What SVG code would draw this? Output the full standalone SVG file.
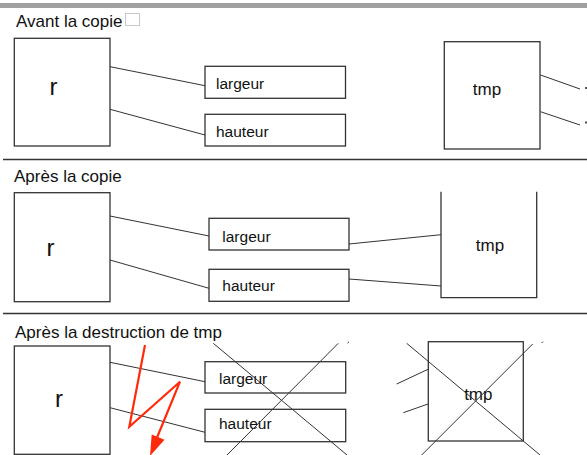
<svg xmlns="http://www.w3.org/2000/svg" width="587" height="455" viewBox="0 0 587 455">
<style>
text{font-family:"Liberation Sans",Arial,sans-serif;fill:#111}
.title{font-size:17px}
.lbl{font-size:15.5px}
.big{font-size:24px;text-anchor:middle}
.tmp{font-size:17px;text-anchor:middle}
.box{fill:#fff;stroke:#333;stroke-width:1.3}
.ln{stroke:#333;stroke-width:1;fill:none}
.sep{stroke:#333;stroke-width:1.3}
.red{stroke:#ff2a0a;stroke-width:2.2;fill:none;stroke-linejoin:miter}
</style>
<rect x="0" y="0" width="587" height="455" fill="#fff"/>
<rect x="0" y="3" width="587" height="5" fill="#a0a0a0"/>
<line class="sep" x1="3" y1="159.5" x2="587" y2="159.5"/>
<line class="sep" x1="3" y1="313.5" x2="587" y2="313.5"/>

<!-- Section 1 -->
<text class="title" x="16" y="26.7">Avant la copie</text>
<rect x="125.5" y="13.5" width="14" height="12" fill="none" stroke="#c8c8c8" stroke-width="1"/>
<g id="connectors">
<line class="ln" x1="110" y1="66.7" x2="205" y2="85.7"/>
<line class="ln" x1="110" y1="109.3" x2="205" y2="135"/>
<line class="ln" x1="540.5" y1="75" x2="580" y2="89"/>
<line class="ln" x1="540.5" y1="111.7" x2="580" y2="125"/>
<line class="ln" x1="110" y1="216" x2="209" y2="236"/>
<line class="ln" x1="110" y1="260" x2="209" y2="288.3"/>
<line class="ln" x1="349" y1="244" x2="441" y2="234.7"/>
<line class="ln" x1="349" y1="279" x2="441" y2="286"/>
<line class="ln" x1="110" y1="362.3" x2="205" y2="381.7"/>
<line class="ln" x1="110" y1="407.7" x2="205" y2="432.3"/>
<line class="ln" x1="396.7" y1="384" x2="428" y2="369.3"/>
<line class="ln" x1="403.3" y1="412.7" x2="428" y2="404"/>
</g>
<g id="r1"><rect class="box" x="14.3" y="38.3" width="95.7" height="107.7"/><text class="big" x="53.5" y="95">r</text></g>
<g id="largeur1"><rect class="box" x="205" y="66.3" width="140.5" height="32"/><text class="lbl" x="216" y="89.3">largeur</text></g>
<g id="hauteur1"><rect class="box" x="205" y="114.3" width="140.5" height="31.7"/><text class="lbl" x="216" y="136.5">hauteur</text></g>
<g id="tmp1"><rect class="box" x="444.3" y="41.7" width="95.7" height="107.3"/><text class="tmp" x="487" y="95">tmp</text></g>
<g id="frag1">
<rect x="585" y="87" width="2" height="2" fill="#555"/>
<rect x="585" y="121.5" width="2" height="2" fill="#555"/>
</g>

<!-- Section 2 -->
<text class="title" x="14" y="181.7">Après la copie</text>
<g id="r2"><rect class="box" x="14.3" y="192.7" width="95.7" height="109"/><text class="big" x="50.5" y="256">r</text></g>
<g id="largeur2"><rect class="box" x="209" y="218.3" width="140" height="31.7"/><text class="lbl" x="222.3" y="241.7">largeur</text></g>
<g id="hauteur2"><rect class="box" x="209" y="269.3" width="140" height="32"/><text class="lbl" x="222.3" y="291">hauteur</text></g>
<g id="tmp2"><path class="box" fill="none" d="M441 191.7 V297.7 H536.7 V191.7"/><text class="tmp" x="490" y="250.7">tmp</text></g>

<!-- Section 3 -->
<text class="title" x="15" y="338.3">Après la destruction de tmp</text>
<g id="r3"><rect class="box" x="14.3" y="346" width="95.7" height="108.3"/><text class="big" x="59" y="406.7">r</text></g>
<g id="largeur3"><rect class="box" x="205" y="361.7" width="140.7" height="31.3"/><text class="lbl" x="219" y="384">largeur</text></g>
<g id="hauteur3"><rect class="box" x="205" y="409.3" width="140.7" height="32.4"/><text class="lbl" x="219" y="429">hauteur</text></g>
<g id="tmp3"><rect class="box" x="428.3" y="341.7" width="95" height="99.3"/><text class="tmp" x="478.3" y="400">tmp</text></g>
<g id="crosses">
<line class="ln" x1="213.3" y1="343.3" x2="347" y2="455"/>
<line class="ln" x1="338.3" y1="343.3" x2="227" y2="455"/>
<line class="ln" x1="347.5" y1="343.2" x2="349" y2="341.8"/>
<line class="ln" x1="406.7" y1="343.3" x2="540" y2="455"/>
<line class="ln" x1="532.7" y1="344" x2="421.7" y2="455"/>
<line class="ln" x1="541.6" y1="343" x2="543" y2="341.6"/>
</g>
<g id="lightning">
<polyline class="red" points="145,345 129.3,426.7 180,381.7 156,440"/>
<polygon points="150,456 151.7,434.5 164.5,439.8" fill="#ff2a0a"/>
</g>
</svg>
